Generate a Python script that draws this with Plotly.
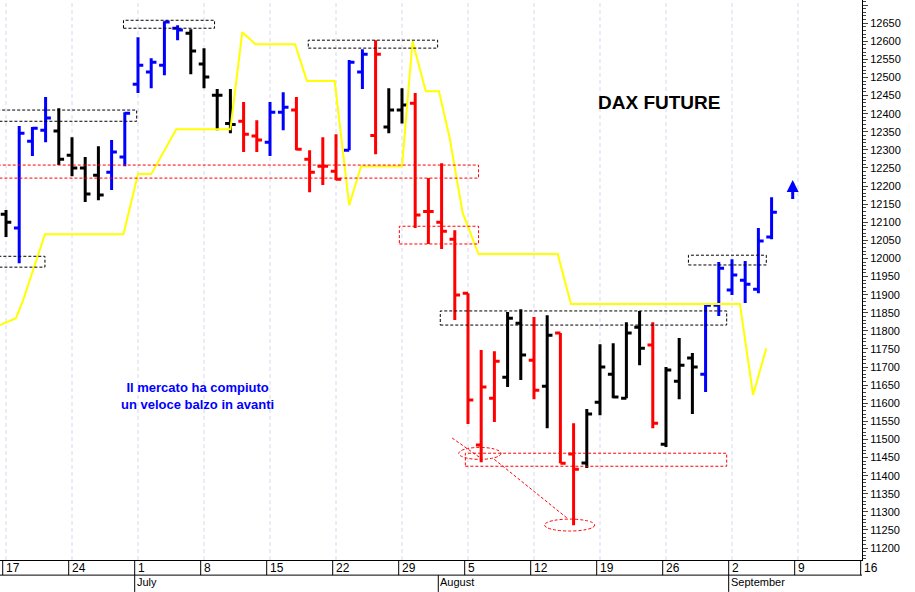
import plotly.graph_objects as go

# trading-day index (0 = Mon 17 June)
opens  = [12122,12084,12324,12354,12352,12285,12250,12230,12238,12280,12481,12515,12534,12636,12622,12537,12451,12373,12379,12338,12321,12404,12410,12274,12255,12241,12299,12515,12340,12363,12410,12429,12130,12100,12053,11904,11485,11614,11672,11821,11719,11647,11794,11460,11435,11603,11680,11614,11810,11761,11487,11661,11725,11680,11871,11913,11940,11915,12059]
highs  = [12134,12366,12363,12446,12415,12335,12280,12310,12327,12404,12611,12553,12655,12644,12633,12581,12468,12468,12432,12382,12432,12459,12446,12299,12335,12343,12548,12578,12603,12470,12470,12457,12222,12263,12078,11904,11747,11744,11852,11860,11838,11843,11794,11545,11584,11763,11766,11824,11855,11824,11700,11780,11739,11877,11990,11998,11993,12084,12169]
lows   = [12059,11987,12283,12321,12258,12227,12156,12161,12189,12255,12457,12470,12506,12603,12509,12470,12354,12346,12294,12294,12283,12354,12299,12183,12203,12216,12299,12468,12288,12346,12373,12084,12040,12026,11830,11543,11437,11548,11645,11664,11611,11531,11434,11263,11421,11567,11614,11614,11705,11531,11479,11611,11570,11631,11841,11899,11877,11904,12053]
closes = [12100,12346,12360,12388,12274,12250,12178,12175,12294,12401,12534,12542,12653,12631,12573,12501,12451,12370,12343,12327,12404,12418,12302,12238,12255,12219,12542,12564,12564,12410,12424,12120,12130,12075,11899,11609,11645,11716,11835,11733,11636,11788,11434,11418,11570,11700,11617,11794,11752,11545,11692,11705,11700,11871,11973,11954,11929,12048,12128]
colors = "kbbbkkkkbbbbbbkkkkrrbbrrrrbbrkkrrrrrrrkkrkrrkkkkkrkkkbbbbbb"

yellow_x = [-0.45,0.76,1.3,2.95,8.9,10.0,11.0,12.9,17.0,17.9,18.9,21.9,22.8,24.9,26.0,26.9,30.0,30.8,31.8,32.8,33.6,34.6,35.8,41.8,42.8,55.6,56.6,57.6]
yellow_y = [11816,11835,11885,12067,12067,12233,12233,12357,12357,12625,12592,12592,12490,12490,12147,12255,12255,12600,12462,12462,12335,12125,12012,12012,11874,11874,11623,11752]

day_labels = ["17","24","1","8","15","22","29","5","12","19","26","2","9","16"]
month_labels = [("July",10),("August",33),("September",55)]

cmap = {"k":"#000000","b":"#0000ff","r":"#ff0000"}
fig = go.Figure()
for c in "kbr":
    idx = [i for i,cc in enumerate(colors) if cc==c]
    fig.add_trace(go.Ohlc(x=idx,open=[opens[i] for i in idx],high=[highs[i] for i in idx],
        low=[lows[i] for i in idx],close=[closes[i] for i in idx],
        increasing=dict(line=dict(color=cmap[c],width=3)),
        decreasing=dict(line=dict(color=cmap[c],width=3)),
        tickwidth=0.4,showlegend=False,hoverinfo="skip"))
fig.add_trace(go.Scatter(x=yellow_x,y=yellow_y,mode="lines",line=dict(color="#ffff00",width=2),showlegend=False))

D = "3px,2px"
def rect(x0,x1,y0,y1,col):
    fig.add_shape(type="rect",x0=x0,x1=x1,y0=y0,y1=y1,line=dict(color=col,width=1,dash=D))
rect(-0.5,9.9,12379,12410,"black")
rect(8.9,15.8,12636,12658,"black")
rect(22.9,32.7,12581,12603,"black")
rect(-0.5,2.95,11976,12006,"black")
rect(-0.5,35.8,12222,12258,"red")
rect(29.8,35.8,12040,12089,"red")
rect(32.9,54.6,11816,11855,"black")
rect(34.8,54.6,11426,11462,"red")
rect(51.7,57.6,11982,12009,"black")
fig.add_shape(type="circle",x0=34.3,x1=37.5,y0=11445,y1=11478,line=dict(color="red",width=1,dash=D))
fig.add_shape(type="circle",x0=40.8,x1=44.6,y0=11247,y1=11280,line=dict(color="red",width=1,dash=D))
fig.add_shape(type="line",x0=33.8,x1=35.9,y0=11504,y1=11450,line=dict(color="red",width=1,dash=D))
fig.add_shape(type="line",x0=37.0,x1=42.6,y0=11445,y1=11280,line=dict(color="red",width=1,dash=D))

for k in range(14):
    fig.add_shape(type="line",x0=5*k,x1=5*k,y0=0,y1=1,yref="paper",line=dict(color="#d8d8ee",width=1,dash="4px,3px"),layer="below")
for k,lab in enumerate(day_labels):
    xk = 5*k-0.25
    fig.add_shape(type="line",x0=xk,x1=xk,y0=0,y1=-0.027,yref="paper",line=dict(color="black",width=1))
    fig.add_annotation(x=xk,y=0.001,xref="x",yref="paper",text=lab,showarrow=False,xanchor="left",yanchor="top",xshift=1,font=dict(size=12,color="black",family="Liberation Sans"))
fig.add_shape(type="line",x0=0,x1=1,xref="paper",y0=-0.027,y1=-0.027,yref="paper",line=dict(color="black",width=1))
for lab,i in month_labels:
    xk = i-0.25
    fig.add_shape(type="line",x0=xk,x1=xk,y0=-0.027,y1=-0.057,yref="paper",line=dict(color="black",width=1))
    fig.add_annotation(x=xk,y=-0.025,xref="x",yref="paper",text=lab,showarrow=False,xanchor="left",yanchor="top",xshift=0,font=dict(size=11,color="black",family="Liberation Sans"))

fig.add_annotation(x=49.5,y=12430,text="<b>DAX FUTURE</b>",showarrow=False,font=dict(size=19,color="black",family="Liberation Sans"))
fig.add_annotation(x=14.5,y=11620,text="<b>Il mercato ha compiuto<br>un veloce balzo in avanti</b>",showarrow=False,font=dict(size=13,color="#0000ff",family="Liberation Sans"))
fig.add_annotation(x=59.6,y=12217,ax=59.6,ay=12160,xref="x",yref="y",axref="x",ayref="y",text="",showarrow=True,arrowhead=2,arrowsize=0.8,arrowwidth=3,arrowcolor="#0000ff")

fig.update_layout(width=915,height=592,margin=dict(l=0,r=53,t=0,b=32,autoexpand=False),plot_bgcolor="white",paper_bgcolor="white",
    xaxis=dict(range=[-0.455,64.85],autorange=False,showticklabels=False,showgrid=False,zeroline=False,rangeslider=dict(visible=False),
               showline=True,linecolor="black",mirror=True,automargin=False),
    yaxis=dict(range=[11167,12714],autorange=False,side="right",dtick=50,tick0=11200,tickformat="d",showgrid=False,zeroline=False,ticks="outside",ticklen=5,
               showline=True,linecolor="black",mirror=True,automargin=False,tickfont=dict(size=11,color="black",family="Liberation Sans"),
               minor=dict(dtick=10,ticks="outside",ticklen=3)),
    font=dict(family="Liberation Sans"))
fig.write_html("out.html", config={"displayModeBar": False},
               post_script="document.body.style.margin='0';document.body.style.overflow='hidden';")
